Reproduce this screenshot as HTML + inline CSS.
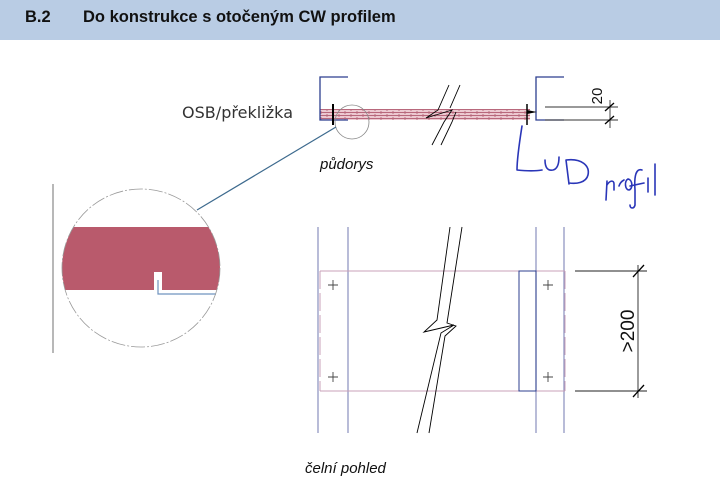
<!DOCTYPE html>
<html><head><meta charset="utf-8"><style>
html,body{margin:0;padding:0;background:#fff;width:720px;height:484px;overflow:hidden}
</style></head><body>
<svg width="720" height="484" viewBox="0 0 720 484" xmlns="http://www.w3.org/2000/svg">
<defs>
<pattern id="hatch" width="12" height="6" patternUnits="userSpaceOnUse">
<rect width="12" height="6" fill="#ecc9d1"/>
<path d="M0 1.5H12M0 4.5H12M3 0V3M9 3V6" stroke="#b8687c" stroke-width="0.9"/>
</pattern>
</defs>
<rect x="0" y="0" width="720" height="40" fill="#b9cce4"/>
<text x="25" y="22" font-family="Liberation Sans, sans-serif" font-weight="bold" font-size="16.5" fill="#111">B.2</text>
<text x="83" y="22" font-family="Liberation Sans, sans-serif" font-weight="bold" font-size="16.5" fill="#111">Do konstrukce s otočeným CW profilem</text>

<rect x="320" y="109" width="210" height="11" fill="url(#hatch)"/>
<path d="M348 77H320V120H348" fill="none" stroke="#2c3f8f" stroke-width="1.3"/>
<path d="M564 77H536V120H564" fill="none" stroke="#2c3f8f" stroke-width="1.3"/>
<line x1="333" y1="104" x2="333" y2="125" stroke="#000" stroke-width="2"/>
<line x1="527" y1="104" x2="527" y2="125" stroke="#000" stroke-width="1.5"/>
<path d="M527 110L537 112L527 114Z" fill="#000"/>
<circle cx="352" cy="122" r="17" fill="none" stroke="#888" stroke-width="0.8"/>
<line x1="336" y1="127" x2="197" y2="210" stroke="#3d6a8e" stroke-width="1.2"/>
<path d="M449 85L438 110L426 118L452 110L444 122L432 145" fill="none" stroke="#000" stroke-width="0.9"/>
<path d="M460 85L450 108M456 112L452 122L441 145" fill="none" stroke="#000" stroke-width="0.9"/>
<line x1="545" y1="107" x2="618" y2="107" stroke="#333" stroke-width="0.9"/>
<line x1="545" y1="120" x2="618" y2="120" stroke="#333" stroke-width="0.9"/>
<line x1="610" y1="100" x2="610" y2="128" stroke="#333" stroke-width="0.9"/>
<line x1="605" y1="111" x2="614" y2="103" stroke="#000" stroke-width="1.3"/>
<line x1="605" y1="124" x2="614" y2="116" stroke="#000" stroke-width="1.3"/>
<text transform="translate(602,96) rotate(-90)" font-family="Liberation Sans, sans-serif" font-size="15" fill="#111" text-anchor="middle">20</text>
<text x="182" y="118" font-family="DejaVu Sans, sans-serif" font-size="16" fill="#333" textLength="111">OSB/překližka</text>
<text x="320" y="169" font-family="Liberation Sans, sans-serif" font-style="italic" font-size="15" fill="#111">půdorys</text>

<g fill="none" stroke="#2a36b8" stroke-width="1.6" stroke-linecap="round" stroke-linejoin="round">
<path d="M522 126C519 145 517 160 517 170C527 171 536 171 542 170"/>
<path d="M545 160C545 168 548 171 553 170C557 169 559 164 559 157"/>
<path d="M566 160L569 184M566 160C582 158 590 166 588 175C586 183 576 184 569 183"/>
<path d="M607 181L606 200M607 185C610 180 614 180 614 184L614 190"/>
<path d="M619 186C620 183 622 181 624 180M628 179C624 181 625 190 629 190C633 189 633 180 628 179"/>
<path d="M642 170C636 168 634 176 635 190L635 205C634 209 630 209 630 205M630 186L644 183"/>
<path d="M648 178L648 192M655 164L655 195"/>
</g>

<line x1="53" y1="184" x2="53" y2="353" stroke="#888" stroke-width="1.2"/>
<clipPath id="cc"><circle cx="141" cy="268" r="79"/></clipPath>
<rect x="60" y="227" width="165" height="63" fill="#b95a6c" clip-path="url(#cc)"/>
<rect x="154" y="272" width="8" height="19" fill="#fff"/>
<path d="M158 280V294H216" fill="none" stroke="#6f93bf" stroke-width="1.2"/>
<circle cx="141" cy="268" r="79" fill="none" stroke="#999" stroke-width="0.8" stroke-dasharray="14 2 2 2"/>

<g stroke="#8a8fbf" stroke-width="1.2">
<line x1="318" y1="227" x2="318" y2="433"/>
<line x1="348" y1="227" x2="348" y2="433"/>
<line x1="536" y1="227" x2="536" y2="433"/>
<line x1="564" y1="227" x2="564" y2="433"/>
</g>
<g stroke="#c9a0b8" stroke-width="1">
<line x1="320" y1="271" x2="565" y2="271"/>
<line x1="320" y1="391" x2="565" y2="391"/>
<line x1="320" y1="271" x2="320" y2="391" stroke-dasharray="18 4"/>
<line x1="565" y1="271" x2="565" y2="391" stroke-dasharray="18 4"/>
</g>
<rect x="519" y="271" width="17" height="120" fill="none" stroke="#2c3f8f" stroke-width="1"/>
<g stroke="#444" stroke-width="0.9">
<path d="M328 285H338M333 280V290M543 285H553M548 280V290M328 377H338M333 372V382M543 377H553M548 372V382"/>
</g>
<path d="M450 227L437 320L424 332L454 325L441 333L417 433" fill="none" stroke="#000" stroke-width="0.9"/>
<path d="M462 227L447 323L456 326L445 336L429 433" fill="none" stroke="#000" stroke-width="0.9"/>
<g stroke="#222" stroke-width="0.9">
<line x1="575" y1="271" x2="647" y2="271"/>
<line x1="575" y1="391" x2="647" y2="391"/>
<line x1="638" y1="265" x2="638" y2="398"/>
</g>
<line x1="633" y1="277" x2="644" y2="265" stroke="#000" stroke-width="1.3"/>
<line x1="633" y1="397" x2="644" y2="385" stroke="#000" stroke-width="1.3"/>
<text transform="translate(634,331) rotate(-90)" font-family="Liberation Sans, sans-serif" font-size="19" fill="#111" text-anchor="middle">&gt;200</text>
<text x="305" y="473" font-family="Liberation Sans, sans-serif" font-style="italic" font-size="15" fill="#111">čelní pohled</text>
</svg>
</body></html>
